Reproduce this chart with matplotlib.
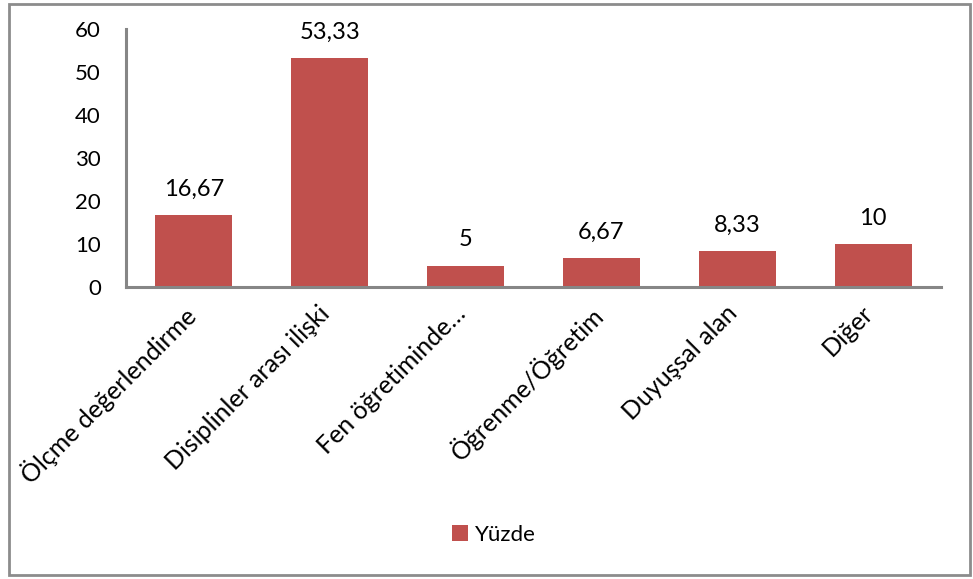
import matplotlib
matplotlib.use("Agg")
import matplotlib.pyplot as plt
from matplotlib.patches import Rectangle
from matplotlib.transforms import ScaledTranslation

categories = ["Ölçme değerlendirme", "Disiplinler arası ilişki", "Fen öğretiminde…",
              "Öğrenme/Öğretim", "Duyuşsal alan", "Diğer"]
values = [16.67, 53.33, 5, 6.67, 8.33, 10]
value_labels = ["16,67", "53,33", "5", "6,67", "8,33", "10"]
yticks = [0, 10, 20, 30, 40, 50, 60]
series_name = "Yüzde"

plt.rcParams['font.family'] = ['Lato', 'DejaVu Sans']
W, H = 973, 579
fig = plt.figure(figsize=(W / 100, H / 100), dpi=100)

# outer chart-area border
fig.patches.append(Rectangle((9 / W, 4 / H), 961 / W, 571 / H, transform=fig.transFigure,
                             fill=False, edgecolor="#8c8c8c", linewidth=2))

left, right, top, bottom = 126, 941, 29, 287
ax = fig.add_axes([left / W, 1 - bottom / H, (right - left) / W, (bottom - top) / H])

bar_color = "#C0504D"
x = list(range(len(categories)))
bars = ax.bar(x, values, width=0.567, color=bar_color, label=series_name, zorder=2)
ax.set_xlim(-0.5, len(categories) - 0.5)
ax.set_ylim(0, 60)
ax.set_yticks(yticks)
ax.set_yticklabels([str(t) for t in yticks], fontsize=16)
ax.tick_params(axis='y', length=0, pad=18)
ax.tick_params(axis='x', length=0, pad=14)
ax.set_xticks(x)
ax.set_xticklabels(categories, rotation=45, ha='right', va='top',
                   rotation_mode='anchor', fontsize=18)
shift = ScaledTranslation(-12 / 100, 5 / 100, fig.dpi_scale_trans)
for lbl in ax.get_xticklabels():
    lbl.set_transform(lbl.get_transform() + shift)

for s in ["top", "right"]:
    ax.spines[s].set_visible(False)
for s in ["left", "bottom"]:
    ax.spines[s].set_color("#868686")
    ax.spines[s].set_linewidth(2.2)

for b, lab in zip(bars, value_labels):
    ax.annotate(lab, (b.get_x() + b.get_width() / 2, b.get_height()),
                xytext=(0, 11), textcoords="offset points", ha='center', va='bottom',
                fontsize=17)

fig.legend(handles=[bars], labels=[series_name], loc='center',
           bbox_to_anchor=(494 / W, 1 - 535 / H), frameon=False, fontsize=16,
           handlelength=0.7, handleheight=0.7, handletextpad=0.3)

fig.savefig("out.png", dpi=100)
